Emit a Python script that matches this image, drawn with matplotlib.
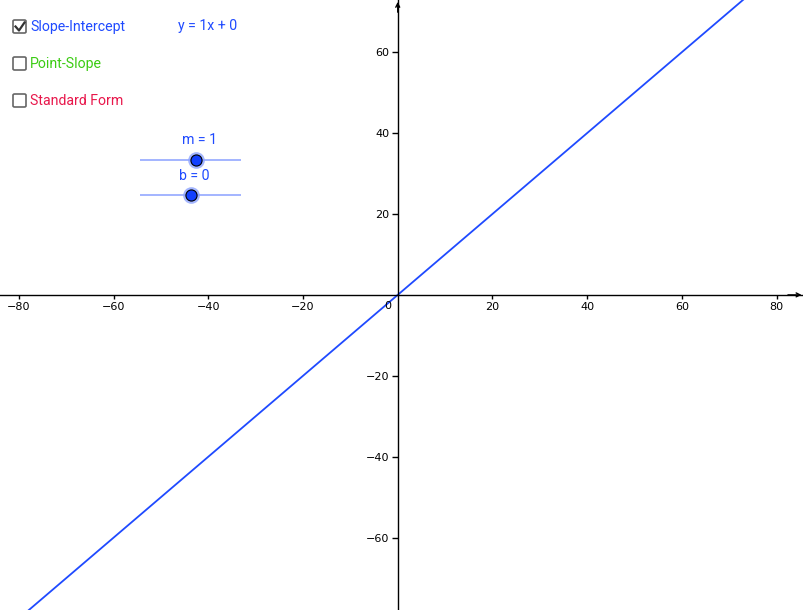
import numpy as np
import matplotlib
matplotlib.use("Agg")
import matplotlib.pyplot as plt
from matplotlib.patches import FancyBboxPatch
from matplotlib.lines import Line2D

# ---- data ----
slope_m = 1
intercept_b = 0
slider_range = [-10, 10]
x_ticks = [-80, -60, -40, -20, 20, 40, 60, 80]
y_ticks = [-60, -40, -20, 20, 40, 60]
x_limits = [-84.0, 85.8]
y_limits = [-77.9, 72.9]
options = ["Slope-Intercept", "Point-Slope", "Standard Form"]
option_checked = [True, False, False]
option_colors = ["#1f4aff", "#3ccc14", "#e8174b"]

W, H = 804, 610
fig = plt.figure(figsize=(W / 100, H / 100), dpi=100)
ax = fig.add_axes([0, 0, 1, 1])
ax.set_xlim(*x_limits)
ax.set_ylim(*y_limits)

BLUE = "#1f4aff"

# axes through origin
for s in ["top", "right"]:
    ax.spines[s].set_visible(False)
ax.spines["left"].set_position(("data", 0))
ax.spines["bottom"].set_position(("data", 0))
ax.spines["left"].set_linewidth(1.0)
ax.spines["bottom"].set_linewidth(1.0)
ax.set_xticks(x_ticks)
ax.set_yticks(y_ticks)
ax.set_xticklabels([f"\u2212{abs(v)}" if v < 0 else str(v) for v in x_ticks])
ax.set_yticklabels([f"\u2212{abs(v)}" if v < 0 else str(v) for v in y_ticks])
ax.tick_params(axis="x", direction="out", length=3, width=1, pad=2,
               labelsize=8, colors="black")
ax.tick_params(axis="y", direction="out", length=4, width=1, pad=2,
               labelsize=8, colors="black")
ax.annotate("0", xy=(0, 0), xytext=(-7, -8), textcoords="offset points",
            ha="center", va="center", fontsize=8)

# arrows at the ends of the axes
ax.annotate("", xy=(0.997, 0), xytext=(0.98, 0),
            xycoords=("axes fraction", "data"), textcoords=("axes fraction", "data"),
            arrowprops=dict(arrowstyle="->", lw=1.0, color="black",
                            shrinkA=0, shrinkB=0, mutation_scale=7))
ax.annotate("", xy=(0, 0.997), xytext=(0, 0.98),
            xycoords=("data", "axes fraction"), textcoords=("data", "axes fraction"),
            arrowprops=dict(arrowstyle="->", lw=1.0, color="black",
                            shrinkA=0, shrinkB=0, mutation_scale=7))

# the line y = m x + b
xs = np.array(x_limits)
ax.plot(xs, slope_m * xs + intercept_b, color=BLUE, lw=1.3, clip_on=True)


def fx(px):
    return px / W


def fy(py):
    return 1 - py / H


# checkboxes and labels
box_tops = [20, 57, 94]
for label, checked, col, top in zip(options, option_checked, option_colors, box_tops):
    bx = FancyBboxPatch((fx(13), fy(top + 13)), 13 / W, 13 / H,
                        boxstyle="round,pad=0,rounding_size=0.002",
                        transform=fig.transFigure, fill=False,
                        edgecolor="#666666", lw=1.2)
    fig.add_artist(bx)
    if checked:
        fig.add_artist(Line2D([fx(15.5), fx(19), fx(24.5)],
                              [fy(top + 6.5), fy(top + 10.5), fy(top + 2.5)],
                              transform=fig.transFigure, color="#333333", lw=1.6))
    fig.text(fx(30), fy(top + 7), label, color=col, fontsize=10.2,
             family="Roboto", ha="left", va="center")

fig.text(fx(178), fy(26), f"y = {slope_m}x + {intercept_b}", color=BLUE,
         fontsize=10.2, family="Roboto", ha="left", va="center")

# sliders
def slider(yc, name, val):
    sax = fig.add_axes([fx(140), fy(yc + 10), 101 / W, 20 / H])
    sax.set_xlim(*slider_range)
    sax.set_ylim(-1, 1)
    sax.axis("off")
    sax.plot(slider_range, [0, 0], color="#94a8ff", lw=1.2)
    sax.plot([val], [0], marker="o", ms=12, color="#8ea4ff", alpha=0.8, mec="none")
    sax.plot([val], [0], marker="o", ms=8, color="#1240ff", mec="black", mew=0.8)
    sax.annotate(f"{name} = {val}", xy=(val, 0), xytext=(2.5, 14),
                 textcoords="offset points", ha="center", va="center",
                 color=BLUE, fontsize=10.2, family="Roboto")


slider(159.5, "m", slope_m)
slider(195, "b", intercept_b)

fig.savefig("out.png", dpi=100)
